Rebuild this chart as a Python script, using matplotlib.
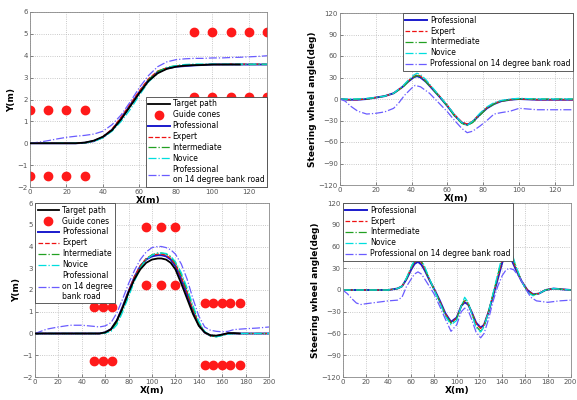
import numpy as np
import matplotlib
matplotlib.use('Agg')
import matplotlib.pyplot as plt

nan = np.nan

# ---- top left: lane change path ----
tl_x = [0, 5, 10, 15, 20, 25, 30, 35, 40, 45, 50, 55, 60, 65, 70, 75, 80, 85, 90, 95, 100, 105, 110, 115, 120, 125, 130]
tl_target = [0, 0, 0, 0, 0, 0, 0.03, 0.12, 0.3, 0.6, 1.1, 1.7, 2.3, 2.85, 3.2, 3.4, 3.5, 3.55, 3.57, 3.58, 3.6, 3.6, 3.6, 3.6, nan, nan, nan]
tl_prof = [0, 0, 0, 0, 0, 0, 0.02, 0.1, 0.28, 0.62, 1.15, 1.75, 2.35, 2.9, 3.25, 3.42, 3.5, 3.53, 3.56, 3.58, 3.6, 3.6, 3.6, 3.6, 3.6, 3.6, 3.6]
tl_expert = [0, 0, 0, 0, 0, 0, 0.02, 0.1, 0.3, 0.65, 1.2, 1.8, 2.4, 2.95, 3.3, 3.45, 3.52, 3.55, 3.58, 3.6, 3.6, 3.6, 3.62, 3.62, 3.62, 3.62, 3.62]
tl_inter = [0, 0, 0, 0, 0, 0, 0.02, 0.09, 0.27, 0.6, 1.1, 1.7, 2.3, 2.9, 3.28, 3.47, 3.55, 3.58, 3.6, 3.6, 3.6, 3.6, 3.6, 3.6, 3.6, 3.6, 3.6]
tl_novice = [0, 0, 0, 0, 0, 0, 0.02, 0.08, 0.25, 0.55, 1.0, 1.55, 2.2, 2.8, 3.2, 3.45, 3.55, 3.6, 3.62, 3.62, 3.62, 3.62, 3.62, 3.62, 3.62, 3.62, 3.62]
tl_bank = [0, 0.05, 0.12, 0.2, 0.27, 0.32, 0.36, 0.42, 0.55, 0.85, 1.3, 1.9, 2.55, 3.1, 3.5, 3.72, 3.82, 3.86, 3.88, 3.88, 3.9, 3.9, 3.92, 3.93, 3.95, 3.97, 4.0]
tl_cone_x = [0, 10, 20, 30, 0, 10, 20, 30, 90, 100, 110, 120, 130, 90, 100, 110, 120, 130]
tl_cone_y = [1.5, 1.5, 1.5, 1.5, -1.5, -1.5, -1.5, -1.5, 5.1, 5.1, 5.1, 5.1, 5.1, 2.1, 2.1, 2.1, 2.1, 2.1]

# ---- top right: steering for lane change ----
tr_x = [0, 5, 10, 15, 20, 25, 30, 35, 38, 41, 43, 45, 48, 52, 56, 60, 64, 68, 71, 74, 78, 82, 86, 90, 95, 100, 110, 120, 130]
tr_prof = [0, -1, -1, 0, 2, 4, 8, 17, 24, 30, 32, 30, 24, 13, 2, -10, -23, -33, -36, -32, -22, -13, -7, -3, -1, 0, -1, -1, -1]
tr_expert = [0, -1, -1, 0, 2, 4, 8, 17, 25, 31, 34, 32, 25, 14, 3, -9, -22, -32, -35, -31, -21, -12, -6, -3, -1, 0, -1, -1, -1]
tr_inter = [0, -1, 0, 0, 2, 4, 8, 16, 24, 30, 33, 31, 24, 13, 2, -10, -24, -34, -37, -33, -23, -13, -7, -3, -1, 0, 0, 0, 0]
tr_novice = [0, 0, 0, 1, 2, 4, 8, 18, 26, 33, 36, 34, 27, 15, 3, -9, -22, -33, -37, -31, -20, -11, -5, -2, 0, 1, 0, 0, 0]
tr_bank_x = [0, 3, 6, 10, 15, 20, 25, 30, 33, 36, 40, 42, 45, 50, 55, 60, 64, 68, 71, 74, 78, 82, 86, 90, 95, 100, 110, 120, 130]
tr_bank = [0, -3, -10, -17, -21, -20, -18, -13, -5, 5, 15, 19, 17, 8, -5, -18, -30, -41, -47, -45, -38, -30, -21, -19, -17, -13, -15, -15, -15]

# ---- bottom left: double lane change path ----
bl_x = [0, 10, 20, 30, 40, 50, 55, 60, 65, 70, 75, 80, 85, 90, 95, 100, 105, 108, 112, 116, 120, 125, 130, 135, 140, 145, 150, 155, 160, 165, 170, 175, 180, 190, 200]
bl_target = [0, 0, 0, 0, 0, 0, 0, 0.05, 0.2, 0.6, 1.2, 1.9, 2.5, 2.95, 3.25, 3.4, 3.45, 3.45, 3.4, 3.25, 2.95, 2.3, 1.6, 0.9, 0.35, 0.05, -0.08, -0.1, -0.05, 0.02, 0.02, 0, nan, nan, nan]
bl_prof = [0, 0, 0, 0, 0, 0, 0, 0.05, 0.2, 0.6, 1.25, 1.95, 2.6, 3.1, 3.4, 3.55, 3.6, 3.6, 3.55, 3.4, 3.1, 2.5, 1.8, 1.0, 0.4, 0.05, -0.1, -0.12, -0.05, 0, 0, 0, 0, 0, 0]
bl_expert = [0, 0, 0, 0, 0, 0, 0, 0.04, 0.18, 0.58, 1.22, 1.95, 2.62, 3.12, 3.45, 3.6, 3.65, 3.65, 3.6, 3.45, 3.18, 2.6, 1.9, 1.1, 0.45, 0.05, -0.12, -0.14, -0.06, 0, 0, 0, 0, 0, 0]
bl_inter = [0, 0, 0, 0, 0, 0, 0, 0.03, 0.15, 0.5, 1.1, 1.8, 2.5, 3.05, 3.42, 3.62, 3.7, 3.7, 3.66, 3.52, 3.25, 2.7, 2.0, 1.2, 0.5, 0.08, -0.12, -0.15, -0.08, -0.02, 0, 0, 0, 0, 0]
bl_novice = [0, 0, 0, 0, 0, 0, 0, 0.02, 0.1, 0.4, 1.0, 1.7, 2.4, 3.0, 3.4, 3.6, 3.7, 3.7, 3.68, 3.55, 3.3, 2.8, 2.1, 1.3, 0.55, 0.1, -0.12, -0.15, -0.1, -0.03, 0, 0, 0, 0, 0]
bl_bank = [0, 0.2, 0.3, 0.38, 0.38, 0.33, 0.3, 0.35, 0.5, 0.95, 1.6, 2.3, 2.9, 3.4, 3.75, 3.95, 4.0, 4.0, 3.95, 3.85, 3.65, 3.2, 2.5, 1.6, 0.8, 0.3, 0.15, 0.1, 0.08, 0.1, 0.18, 0.2, 0.22, 0.25, 0.3]
bl_cone_x = [50, 58, 66, 50, 58, 66, 95, 108, 120, 95, 108, 120, 145, 152, 160, 167, 175, 145, 152, 160, 167, 175]
bl_cone_y = [1.2, 1.2, 1.2, -1.25, -1.25, -1.25, 4.9, 4.9, 4.9, 2.25, 2.25, 2.25, 1.4, 1.4, 1.4, 1.4, 1.4, -1.45, -1.45, -1.45, -1.45, -1.45]

# ---- bottom right: steering for double lane change ----
br_x = [0, 10, 20, 30, 40, 48, 52, 56, 60, 63, 66, 69, 72, 76, 80, 85, 90, 95, 100, 104, 107, 110, 113, 117, 121, 124, 128, 132, 136, 140, 143, 145, 148, 152, 157, 162, 167, 172, 178, 185, 192, 200]
br_prof = [0, 0, 0, 0, 0, 2, 5, 15, 28, 36, 39, 35, 27, 14, 2, -14, -32, -44, -38, -22, -17, -20, -30, -45, -52, -48, -30, -8, 15, 38, 48, 49, 42, 28, 12, 0, -6, -5, 0, 2, 1, 0]
br_expert = [0, 0, 0, 0, 0, 2, 5, 16, 30, 38, 42, 38, 29, 15, 2, -15, -33, -45, -39, -22, -15, -19, -30, -46, -53, -48, -29, -6, 18, 42, 52, 53, 46, 30, 12, 0, -6, -5, 0, 2, 1, 0]
br_inter = [0, 0, 0, 0, 0, 2, 5, 16, 31, 40, 44, 40, 30, 15, 1, -16, -34, -46, -40, -22, -13, -18, -31, -50, -57, -50, -30, -5, 20, 46, 57, 58, 50, 32, 12, -2, -7, -5, 0, 2, 1, 0]
br_novice = [0, 0, 0, 0, 0, 2, 5, 17, 32, 41, 46, 42, 32, 16, 1, -17, -36, -48, -42, -22, -10, -17, -32, -52, -58, -51, -30, -4, 22, 48, 60, 62, 53, 33, 12, -3, -8, -5, 0, 2, 1, 0]
br_bank_x = [0, 4, 8, 12, 16, 20, 30, 40, 48, 52, 56, 60, 63, 66, 69, 72, 76, 80, 85, 90, 95, 100, 104, 107, 110, 113, 117, 121, 124, 128, 132, 136, 140, 143, 146, 150, 155, 160, 165, 170, 180, 190, 200]
br_bank = [0, -5, -12, -18, -20, -19, -17, -15, -14, -10, 5, 15, 22, 25, 22, 15, 5, -5, -22, -40, -57, -48, -30, -25, -28, -40, -58, -66, -60, -40, -15, 5, 20, 27, 30, 28, 18, 3, -10, -15, -17, -15, -14]

# styles
c_prof = '#1a1acc'
c_exp = '#ee1111'
c_int = '#22a022'
c_nov = '#00dede'
c_bank = '#6a5cff'
leg_kw = dict(fontsize=5.5, handlelength=2.8, handletextpad=0.4, borderaxespad=0.05,
              labelspacing=0.25, borderpad=0.3, fancybox=False, framealpha=1)

plt.rcParams['font.family'] = ['DejaVu Sans']

fig = plt.figure(figsize=(5.77, 4.0), dpi=100)
ax_tl = fig.add_axes([0.052, 0.5325, 0.411, 0.4375])
ax_tr = fig.add_axes([0.589, 0.5375, 0.404, 0.43])
ax_bl = fig.add_axes([0.0607, 0.0575, 0.4055, 0.435])
ax_br = fig.add_axes([0.594, 0.0575, 0.395, 0.435])


def style_ax(ax, xlim, xticks, ylim, yticks, ylabel):
    ax.set_xlim(*xlim)
    ax.set_ylim(*ylim)
    ax.set_xticks(xticks)
    ax.set_yticks(yticks)
    ax.grid(True, color='#b8b8b8', linestyle=':', linewidth=0.6)
    ax.tick_params(labelsize=5, colors='#555555', length=2, width=0.5, direction='in', pad=1.5)
    for s in ax.spines.values():
        s.set_color('#888888')
        s.set_linewidth(0.6)
    ax.set_xlabel('X(m)', fontsize=6.5, fontweight='bold', labelpad=1)
    ax.set_ylabel(ylabel, fontsize=6.5, fontweight='bold', labelpad=1)


def finish_legend(ax, loc):
    leg = ax.legend(loc=loc, **leg_kw)
    leg.get_frame().set_edgecolor('#444444')
    leg.get_frame().set_linewidth(0.6)


def path_panel(ax, x, target, prof, exp, inter, nov, bank, cx, cy, loc, bank_label):
    ax.plot(x, target, color='black', lw=1.3, label='Target path', zorder=3)
    ax.plot(cx, cy, 'o', color='#ff1a1a', ms=6, mec='#ff1a1a', ls='none', label='Guide cones')
    ax.plot(x, prof, color=c_prof, lw=1.4, label='Professional')
    ax.plot(x, exp, color=c_exp, lw=0.9, ls='--', label='Expert')
    ax.plot(x, inter, color=c_int, lw=0.9, ls='-.', label='Intermediate')
    ax.plot(x, nov, color=c_nov, lw=0.9, ls='-.', label='Novice')
    ax.plot(x, bank, color=c_bank, lw=0.9, ls='-.', label=bank_label)
    finish_legend(ax, loc)


def steer_panel(ax, x, prof, exp, inter, nov, bx, bank, loc):
    ax.plot(x, prof, color=c_prof, lw=1.4, label='Professional')
    ax.plot(x, exp, color=c_exp, lw=0.9, ls='--', label='Expert')
    ax.plot(x, inter, color=c_int, lw=0.9, ls='-.', label='Intermediate')
    ax.plot(x, nov, color=c_nov, lw=0.9, ls='-.', label='Novice')
    ax.plot(bx, bank, color=c_bank, lw=0.9, ls='-.', label='Professional on 14 degree bank road')
    finish_legend(ax, loc)


path_panel(ax_tl, tl_x, tl_target, tl_prof, tl_expert, tl_inter, tl_novice, tl_bank,
           tl_cone_x, tl_cone_y, 'lower right', 'Professional\non 14 degree bank road')
style_ax(ax_tl, (0, 130), range(0, 121, 20), (-2, 6), range(-2, 7), 'Y(m)')

steer_panel(ax_tr, tr_x, tr_prof, tr_expert, tr_inter, tr_novice, tr_bank_x, tr_bank, 'upper right')
style_ax(ax_tr, (0, 130), range(0, 121, 20), (-120, 120), range(-120, 121, 30), 'Steering wheel angle(deg)')

path_panel(ax_bl, bl_x, bl_target, bl_prof, bl_expert, bl_inter, bl_novice, bl_bank,
           bl_cone_x, bl_cone_y, 'upper left', 'Professional\non 14 degree\nbank road')
style_ax(ax_bl, (0, 200), range(0, 201, 20), (-2, 6), range(-2, 7), 'Y(m)')

steer_panel(ax_br, br_x, br_prof, br_expert, br_inter, br_novice, br_bank_x, br_bank, 'upper left')
style_ax(ax_br, (0, 200), range(0, 201, 20), (-120, 120), range(-120, 121, 30), 'Steering wheel angle(deg)')

fig.savefig('out.png', dpi=100)
